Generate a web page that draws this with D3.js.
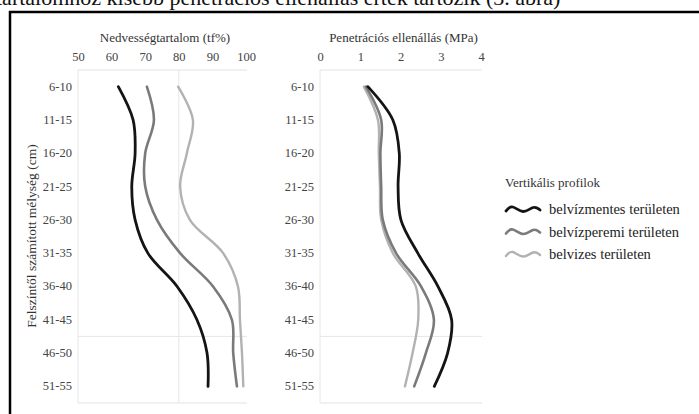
<!DOCTYPE html>
<html>
<head>
<meta charset="utf-8">
<script src="https://cdn.jsdelivr.net/npm/d3@7"></script>
<style>
  body { margin: 0; background: #fff; }
  svg, svg text { font-family: "Liberation Serif", "DejaVu Serif", serif !important; }
</style>
</head>
<body>
<div></div>
<script>
var width = 699;
var height = 414;

// depth categories (cm)
var depths = ["6-10", "11-15", "16-20", "21-25", "26-30", "31-35", "36-40", "41-45", "46-50", "51-55"];
var moistureTicks = [50, 60, 70, 80, 90, 100];
var penetrationTicks = [0, 1, 2, 3, 4];
var seriesNames = ["belvízmentes területen", "belvízperemi területen", "belvizes területen"];

// Nedvességtartalom (tf%)
var moistureMentes = [62, 66.4, 67, 66, 67, 70.8, 79.5, 85.4, 88.4, 88.7];
var moisturePeremi = [70.5, 72.6, 70, 70, 73.5, 80.4, 90.2, 95.8, 96.2, 97.3];
var moistureVizes = [79.8, 84.2, 82.4, 80.4, 83.3, 93.2, 97.6, 98.2, 98.8, 99.2];

// Penetrációs ellenállás (MPa)
var penMentes = [1.19, 1.81, 1.97, 1.94, 2.01, 2.43, 2.93, 3.27, 3.17, 2.84];
var penPeremi = [1.14, 1.52, 1.5, 1.52, 1.56, 1.89, 2.51, 2.83, 2.63, 2.34];
var penVizes = [1.09, 1.44, 1.46, 1.49, 1.52, 1.81, 2.38, 2.44, 2.3, 2.11];

var colors = ["#141414", "#7a7a7a", "#b2b2b2"];
var strokes = [2.8, 2.6, 2.4];

var svg = d3.select("div")
	.append("svg")
	.attr("width", width)
	.attr("height", height);

// cut-off page text above the figure
svg.append("text")
	.attr("x", -4)
	.attr("y", 5)
	.attr("font-size", 22)
	.attr("fill", "#111")
	.text("tartalomhoz kisebb penetrációs ellenállás érték tartozik (3. ábra)");

// frame
svg.append("rect")
	.attr("x", 10)
	.attr("y", 12)
	.attr("width", 720)
	.attr("height", 430)
	.attr("fill", "none")
	.attr("stroke", "#000")
	.attr("stroke-width", 2.5);

var y = d3.scaleBand()
	.domain(depths)
	.range([70, 403]);

var yc = d => y(d) + y.bandwidth() / 2;

var panels = [
	{ title: "Nedvességtartalom (tf%)", domain: [50, 100], range: [78, 246], ticks: moistureTicks,
	  series: [moistureMentes, moisturePeremi, moistureVizes], vline: 80 },
	{ title: "Penetrációs ellenállás (MPa)", domain: [0, 4], range: [320, 481], ticks: penetrationTicks,
	  series: [penMentes, penPeremi, penVizes], vline: null }
];

panels.forEach(p => {
	var x = d3.scaleLinear().domain(p.domain).range(p.range);
	var g = svg.append("g");

	// plot area edges
	g.append("line")
		.attr("x1", p.range[0]).attr("x2", p.range[1] + 1)
		.attr("y1", 70).attr("y2", 70)
		.attr("stroke", "#e2e2e2");
	g.append("line")
		.attr("x1", p.range[0]).attr("x2", p.range[1] + 1)
		.attr("y1", 403).attr("y2", 403)
		.attr("stroke", "#e2e2e2");
	g.append("line")
		.attr("x1", p.range[0]).attr("x2", p.range[0])
		.attr("y1", 70).attr("y2", 403)
		.attr("stroke", "#e6e6e6");
	// horizontal crossing line between 41-45 and 46-50
	g.append("line")
		.attr("x1", p.range[0]).attr("x2", p.range[1] + 1)
		.attr("y1", y("46-50")).attr("y2", y("46-50"))
		.attr("stroke", "#e6e6e6");
	if (p.vline != null) {
		g.append("line")
			.attr("x1", x(p.vline)).attr("x2", x(p.vline))
			.attr("y1", 70).attr("y2", 403)
			.attr("stroke", "#e6e6e6");
	}

	// top axis
	var xAxis = g.append("g")
		.attr("transform", "translate(0,61)")
		.call(d3.axisTop(x).tickValues(p.ticks).tickFormat(d3.format("d")).tickSize(0).tickPadding(0));
	xAxis.select(".domain").remove();
	xAxis.attr("font-family", null);
	xAxis.selectAll("text")
		.attr("font-size", 12.5)
		.attr("fill", "#444");

	g.append("text")
		.attr("x", (p.range[0] + p.range[1]) / 2 + 3)
		.attr("y", 42)
		.attr("text-anchor", "middle")
		.attr("font-size", 13)
		.attr("fill", "#333")
		.text(p.title);

	// category axis
	var yAxis = g.append("g")
		.attr("transform", "translate(" + (p.range[0] - 6) + ",0)")
		.call(d3.axisLeft(y).tickSize(0).tickPadding(0));
	yAxis.select(".domain").remove();
	yAxis.attr("font-family", null);
	yAxis.selectAll("text")
		.attr("font-size", 12.5)
		.attr("fill", "#444");

	// profiles (drawn light to dark so black sits on top)
	var line = d3.line()
		.x(d => x(d.v))
		.y(d => yc(d.depth))
		.curve(d3.curveCatmullRom.alpha(0.5));

	[2, 1, 0].forEach(i => {
		var pts = depths.map((d, j) => ({ depth: d, v: p.series[i][j] }));
		g.append("path")
			.datum(pts)
			.attr("d", line)
			.attr("fill", "none")
			.attr("stroke", colors[i])
			.attr("stroke-width", strokes[i])
			.attr("stroke-linecap", "round");
	});
});

// y axis title
svg.append("text")
	.attr("transform", "translate(36,236) rotate(-90)")
	.attr("text-anchor", "middle")
	.attr("font-size", 13.5)
	.attr("fill", "#333")
	.text("Felszíntől számított mélység (cm)");

// legend
var legend = svg.append("g");
legend.append("text")
	.attr("x", 505)
	.attr("y", 187)
	.attr("font-size", 13)
	.attr("fill", "#333")
	.text("Vertikális profilok");

var wave = d3.line().curve(d3.curveBasis);
seriesNames.forEach((name, i) => {
	var cy = 209 + i * 22.5;
	legend.append("path")
		.attr("d", wave([[506, cy + 2], [512, cy - 5], [523, cy + 6], [534, cy - 4], [540, cy + 1]]))
		.attr("fill", "none")
		.attr("stroke", colors[i])
		.attr("stroke-width", strokes[i])
		.attr("stroke-linecap", "round");
	legend.append("text")
		.attr("x", 549)
		.attr("y", cy + 5)
		.attr("font-size", 14.5)
		.attr("fill", "#222")
		.text(name);
});
</script>
</body>
</html>
